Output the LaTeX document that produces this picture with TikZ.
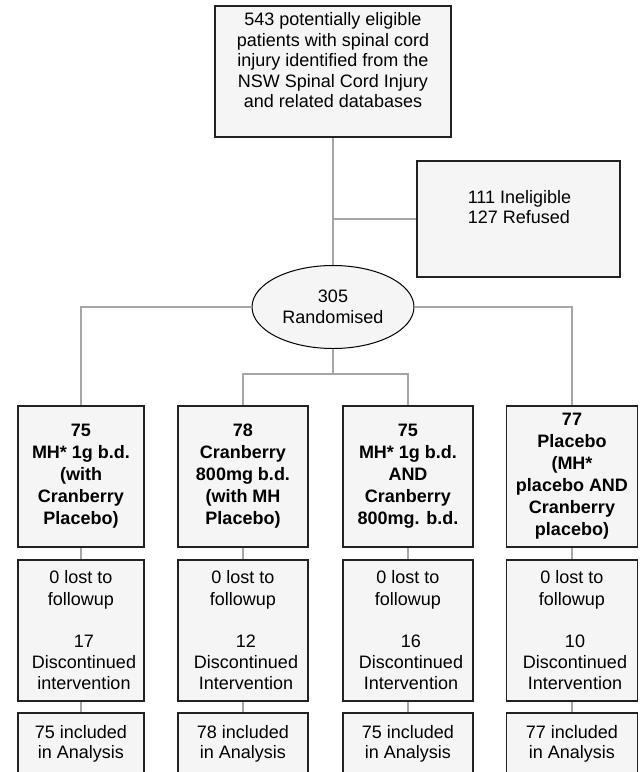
\documentclass[tikz,border=0pt]{standalone}
\usepackage{fontspec}
\setmainfont{Liberation Sans}
\usetikzlibrary{shapes.geometric}
\definecolor{boxfill}{HTML}{F5F5F5}
\definecolor{linegray}{HTML}{A6A6A6}
\definecolor{boxline}{HTML}{222222}
\tikzset{
  box/.style={draw=boxline, line width=1.2pt, fill=boxfill, inner sep=0pt, align=center, font=\fontsize{18}{21.2}\selectfont},
  bbox/.style={box, font=\fontsize{18}{22}\selectfont\bfseries},
  txt/.style={inner sep=0pt, align=center, font=\fontsize{18}{20.5}\selectfont, execute at begin node=\strut, execute at end node=\strut},
  conn/.style={draw=linegray, line width=1.3pt},
}
\begin{document}
\begin{tikzpicture}[x=1pt,y=-1pt]
\useasboundingbox (0,0) rectangle (640,772);

% top box
\node[box, minimum width=236pt, minimum height=131pt] (top) at (333,71.5) {};
\node[txt] (topT) at (333,63.5) {543 potentially eligible\\patients with spinal cord\\injury identified from the\\NSW Spinal Cord Injury\\and related databases};

% ineligible
\node[box, minimum width=203pt, minimum height=116pt] (inel) at (518.5,219) {};
\node[txt, font=\fontsize{18}{20}\selectfont, align=left] (inelT) at (519.5,209.5) {111 Ineligible\\127 Refused};

% ellipse
\node[draw=black, line width=1pt, fill=boxfill, ellipse, minimum width=162pt, minimum height=83pt, inner sep=0pt, align=center, font=\fontsize{18}{21}\selectfont] (ell) at (333,307) {305\\Randomised};

% row 1
\node[bbox, minimum width=126pt, minimum height=141pt] (b1) at (81,476.5) {75\\MH* 1g b.d.\\(with\\Cranberry\\Placebo)};
\node[bbox, minimum width=130pt, minimum height=141pt] (b2) at (243,476.5) {78\\Cranberry\\800mg b.d.\\(with MH\\Placebo)};
\node[bbox, minimum width=130pt, minimum height=141pt] (b3) at (408,476.5) {75\\MH* 1g b.d.\\AND\\Cranberry\\800mg. b.d.};
\node[bbox, minimum width=131pt, minimum height=141pt] (b4) at (572,476.5) {77\\Placebo\\(MH*\\placebo AND\\Cranberry\\placebo)};

% row 2
\node[box, minimum width=126pt, minimum height=141pt] (c1) at (81,630.5) {0 lost to\\followup\\[21.2pt]\hspace*{6pt}17\\\hspace*{6pt}Discontinued\\\hspace*{6pt}intervention};
\node[box, minimum width=130pt, minimum height=141pt] (c2) at (243,630.5) {0 lost to\\followup\\[21.2pt]\hspace*{6pt}12\\\hspace*{6pt}Discontinued\\\hspace*{6pt}Intervention};
\node[box, minimum width=130pt, minimum height=141pt] (c3) at (408,630.5) {0 lost to\\followup\\[21.2pt]\hspace*{6pt}16\\\hspace*{6pt}Discontinued\\\hspace*{6pt}Intervention};
\node[box, minimum width=131pt, minimum height=141pt] (c4) at (572,630.5) {0 lost to\\followup\\[21.2pt]\hspace*{6pt}10\\\hspace*{6pt}Discontinued\\\hspace*{6pt}Intervention};

% row 3
\node[box, minimum width=126pt, minimum height=80pt] (d1) at (81,753) {};
\node[box, minimum width=130pt, minimum height=80pt] (d2) at (243,753) {};
\node[box, minimum width=130pt, minimum height=80pt] (d3) at (408,753) {};
\node[box, minimum width=131pt, minimum height=80pt] (d4) at (572,753) {};
\node[txt, font=\fontsize{18}{20}\selectfont] (d1T) at (81,744.5) {75 included\\in Analysis};
\node[txt, font=\fontsize{18}{20}\selectfont] (d2T) at (243,744.5) {78 included\\in Analysis};
\node[txt, font=\fontsize{18}{20}\selectfont] (d3T) at (408,744.5) {75 included\\in Analysis};
\node[txt, font=\fontsize{18}{20}\selectfont] (d4T) at (572,744.5) {77 included\\in Analysis};

% connectors
\draw[conn] (top.south) -- (ell.north);
\draw[conn] (inel.west) -- (inel.west -| top.south);
\draw[conn] (ell.west) -| (b1.north);
\draw[conn] (ell.east) -| (b4.north);
\coordinate (split) at (333,374);
\draw[conn] (ell.south) -- (split);
\draw[conn] (b2.north) |- (split) -| (b3.north);
\foreach \i in {1,2,3,4}{
  \draw[conn] (b\i.south) -- (c\i.north);
  \draw[conn] (c\i.south) -- (d\i.north);
}
\end{tikzpicture}
\end{document}
